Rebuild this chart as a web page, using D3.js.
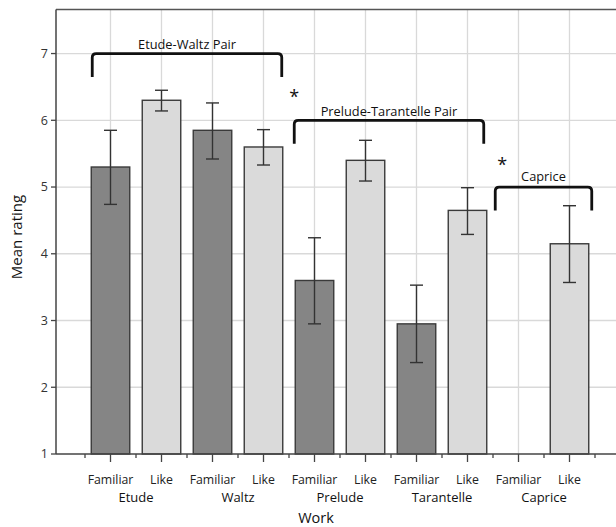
<!DOCTYPE html>
<html>
<head>
<meta charset="utf-8">
<script src="https://cdn.jsdelivr.net/npm/d3@7"></script>
<style>
  html, body { margin: 0; padding: 0; background: #fff; }
  svg { display: block; font-family: "Open Sans", "Noto Sans", sans-serif; }
</style>
</head>
<body>
<svg id="chart" width="616" height="527"></svg>
<script>
// Works and rating types
const works = ["Etude", "Waltz", "Prelude", "Tarantelle", "Caprice"];
const measures = ["Familiar", "Like"];

// Mean ratings, one entry per work (Familiar / Like); Caprice has no familiarity bar
const familiarMean = [5.3, 5.85, 3.6, 2.95, null];
const likeMean = [6.3, 5.6, 5.4, 4.65, 4.15];

// Error bar extents (lower, upper)
const familiarLow = [4.74, 5.42, 2.95, 2.37, null];
const familiarHigh = [5.85, 6.26, 4.24, 3.53, null];
const likeLow = [6.14, 5.33, 5.09, 4.29, 3.57];
const likeHigh = [6.45, 5.86, 5.70, 4.99, 4.72];

// Y axis ticks
const yTicks = [1, 2, 3, 4, 5, 6, 7];

// Comparison brackets: first/last bar index, top value, label
const bracketLabels = ["Etude-Waltz Pair", "Prelude-Tarantelle Pair", "Caprice"];
const bracketFrom = [0, 4, 8];
const bracketTo = [3, 7, 9];
const bracketTop = [7.0, 6.0, 5.0];
const bracketDrop = [0.35, 0.35, 0.35];

// Significance markers: position in bar-index units and value
const starAt = [3.6, 7.68];
const starValue = [6.42, 5.4];

const svg = d3.select("#chart");

const bars = [];
works.forEach((w, i) => {
  bars.push({ work: w, measure: "Familiar", mean: familiarMean[i], lo: familiarLow[i], hi: familiarHigh[i] });
  bars.push({ work: w, measure: "Like", mean: likeMean[i], lo: likeLow[i], hi: likeHigh[i] });
});
bars.forEach((d, i) => d.key = i);

const axisX = 56;
const x = d3.scaleBand()
  .domain(bars.map(d => d.key))
  .range([59.5, 620.5])
  .paddingOuter(0.5)
  .paddingInner(0);
const step = x.step();
const barW = 38.5;
const cx = i => x(i) + step / 2;
const xAt = v => x(0) + step * (v + 0.5);

const y = d3.scaleLinear().domain([1, 7.66]).range([454, 9.5]);

const plotRight = 616;

// grid
const grid = svg.append("g").attr("stroke", "#d9d9d9").attr("stroke-width", 1.3);
grid.selectAll("line.h").data(yTicks.slice(1)).join("line")
  .attr("x1", axisX).attr("x2", plotRight)
  .attr("y1", d => y(d)).attr("y2", d => y(d));
grid.selectAll("line.v").data(bars).join("line")
  .attr("x1", d => cx(d.key)).attr("x2", d => cx(d.key))
  .attr("y1", y(7.66)).attr("y2", y(1));

// top frame line
svg.append("line")
  .attr("x1", axisX).attr("x2", plotRight)
  .attr("y1", y(7.66)).attr("y2", y(7.66))
  .attr("stroke", "#555").attr("stroke-width", 1.3);

// bars
svg.append("g").selectAll("rect").data(bars.filter(d => d.mean != null)).join("rect")
  .attr("x", d => cx(d.key) - barW / 2)
  .attr("width", barW)
  .attr("y", d => y(d.mean))
  .attr("height", d => y(1) - y(d.mean))
  .attr("fill", d => d.measure === "Familiar" ? "#858585" : "#dadada")
  .attr("stroke", "#3a3a3a")
  .attr("stroke-width", 1.4);

// error bars
const eb = svg.append("g").attr("stroke", "#333").attr("stroke-width", 1.4).attr("fill", "none");
const ebData = bars.filter(d => d.lo != null);
const cap = 6.5;
eb.selectAll("line.stem").data(ebData).join("line")
  .attr("x1", d => cx(d.key)).attr("x2", d => cx(d.key))
  .attr("y1", d => y(d.lo)).attr("y2", d => y(d.hi));
eb.selectAll("line.top").data(ebData).join("line")
  .attr("x1", d => cx(d.key) - cap).attr("x2", d => cx(d.key) + cap)
  .attr("y1", d => y(d.hi)).attr("y2", d => y(d.hi));
eb.selectAll("line.bot").data(ebData).join("line")
  .attr("x1", d => cx(d.key) - cap).attr("x2", d => cx(d.key) + cap)
  .attr("y1", d => y(d.lo)).attr("y2", d => y(d.lo));

// y axis
svg.append("line")
  .attr("x1", axisX).attr("x2", axisX)
  .attr("y1", y(7.66)).attr("y2", y(1))
  .attr("stroke", "#444").attr("stroke-width", 1.5);
const yt = svg.append("g");
yt.selectAll("line").data(yTicks).join("line")
  .attr("x1", axisX - 5).attr("x2", axisX)
  .attr("y1", d => y(d)).attr("y2", d => y(d))
  .attr("stroke", "#444").attr("stroke-width", 1.3);
yt.selectAll("text").data(yTicks).join("text")
  .attr("x", axisX - 8).attr("y", d => y(d))
  .attr("dy", "0.35em")
  .attr("text-anchor", "end")
  .attr("font-size", 12.5)
  .attr("fill", "#333")
  .text(d => d);

// x axis
svg.append("line")
  .attr("x1", axisX).attr("x2", plotRight)
  .attr("y1", y(1)).attr("y2", y(1))
  .attr("stroke", "#444").attr("stroke-width", 1.5);
const xt = svg.append("g").attr("stroke", "#444").attr("stroke-width", 1.3);
xt.selectAll("line.major").data(bars).join("line")
  .attr("x1", d => cx(d.key)).attr("x2", d => cx(d.key))
  .attr("y1", y(1)).attr("y2", y(1) + 8);
xt.selectAll("line.minor").data(bars).join("line")
  .attr("x1", d => x(d.key)).attr("x2", d => x(d.key))
  .attr("y1", y(1)).attr("y2", y(1) + 4);
xt.append("line")
  .attr("x1", x(9) + step).attr("x2", x(9) + step)
  .attr("y1", y(1)).attr("y2", y(1) + 4);

svg.append("g").selectAll("text").data(bars).join("text")
  .attr("x", d => cx(d.key)).attr("y", 484)
  .attr("text-anchor", "middle")
  .attr("font-size", 12.3)
  .attr("fill", "#222")
  .text(d => d.measure);

svg.append("g").selectAll("text").data(works).join("text")
  .attr("x", (d, i) => (cx(2 * i) + cx(2 * i + 1)) / 2).attr("y", 502)
  .attr("text-anchor", "middle")
  .attr("font-size", 13)
  .attr("fill", "#111")
  .text(d => d);

svg.append("text")
  .attr("x", 316).attr("y", 523)
  .attr("text-anchor", "middle")
  .attr("font-size", 14.5)
  .attr("fill", "#111")
  .text("Work");

svg.append("text")
  .attr("transform", "translate(22,237) rotate(-90)")
  .attr("text-anchor", "middle")
  .attr("font-size", 15)
  .attr("fill", "#111")
  .text("Mean rating");

// comparison brackets
const padL = [0, 2, 5];
const padR = [0, 2, -4];
const labelGap = [4.5, 4, 6];
const br = svg.append("g");
bracketLabels.forEach((lab, i) => {
  const x0 = x(bracketFrom[i]) + (step - barW) / 2 + 1 - padL[i];
  const x1 = x(bracketTo[i]) + (step + barW) / 2 - 1 - padR[i];
  const yt0 = y(bracketTop[i]);
  const yb = y(bracketTop[i] - bracketDrop[i]);
  const r = 4;
  const p = d3.path();
  p.moveTo(x0, yb);
  p.lineTo(x0, yt0 + r);
  p.quadraticCurveTo(x0, yt0, x0 + r, yt0);
  p.lineTo(x1 - r, yt0);
  p.quadraticCurveTo(x1, yt0, x1, yt0 + r);
  p.lineTo(x1, yb);
  br.append("path")
    .attr("d", p.toString())
    .attr("fill", "none")
    .attr("stroke", "#111")
    .attr("stroke-width", 2.8);
  br.append("text")
    .attr("x", (x0 + x1) / 2).attr("y", yt0 - labelGap[i])
    .attr("text-anchor", "middle")
    .attr("font-size", 12.8)
    .attr("fill", "#111")
    .text(lab);
});

// significance stars
svg.append("g").selectAll("text").data(starAt).join("text")
  .attr("x", d => xAt(d))
  .attr("y", (d, i) => y(starValue[i]))
  .attr("dy", "0.6em")
  .attr("text-anchor", "middle")
  .attr("font-size", 18)
  .attr("fill", "#111")
  .text("*");
</script>
</body>
</html>
